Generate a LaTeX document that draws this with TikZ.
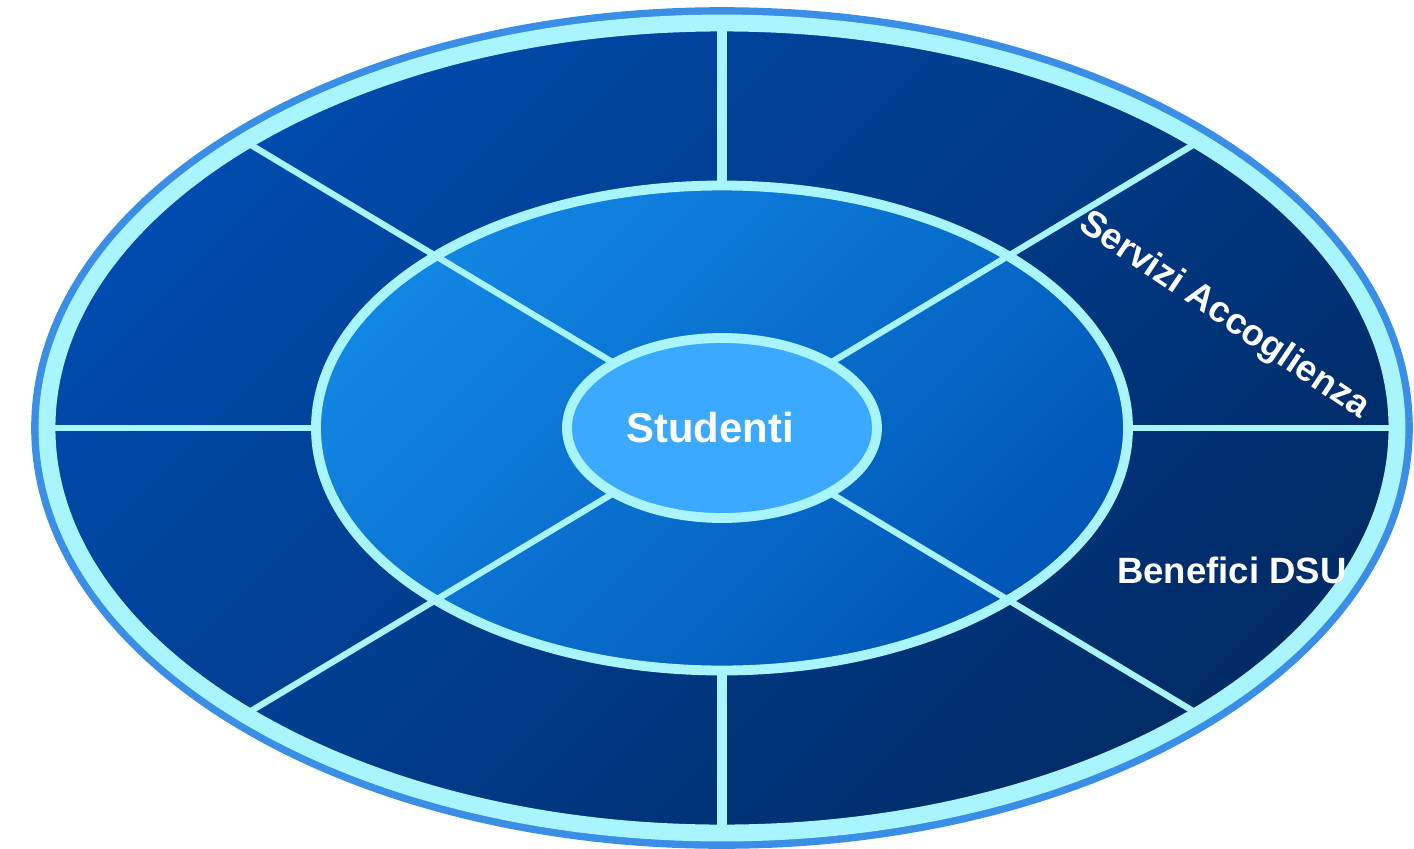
\documentclass[tikz,border=0pt]{standalone}
\usepackage{fontspec}
\setmainfont{Liberation Sans}
\usepackage{tikz}
\usetikzlibrary{shapes.geometric}
\usetikzlibrary{positioning}
\definecolor{rimcyan}{HTML}{A8F4FF}
\definecolor{halo}{HTML}{3A8EE6}
\definecolor{ringtop}{HTML}{004BAD}
\definecolor{ringbot}{HTML}{002B66}
\definecolor{midtop}{HTML}{1286E4}
\definecolor{midbot}{HTML}{0056B6}
\definecolor{core}{HTML}{3AA9FF}
\tikzstyle{ring} = [draw=rimcyan, ellipse, inner sep=0pt, outer sep=0pt]
\tikzstyle{spoke} = [draw=rimcyan, line width=1.8pt]
\begin{document}
\begin{tikzpicture}[
lab/.style={text=white, font=\bfseries\fontsize{10.4}{12}\selectfont}]
\useasboundingbox (-7.22,-4.20) rectangle (6.92,4.28);
\node [ring, line width=4.8pt, minimum width=13.5cm, minimum height=8.1cm,
preaction={draw=halo, line width=9pt},
top color=ringtop, bottom color=ringbot, shading angle=45] (outer) at (0,0) {};
\node [ring, line width=2.8pt, minimum width=8.12cm, minimum height=4.85cm,
top color=midtop, bottom color=midbot, shading angle=45] (middle) at (0,0) {};
\node [ring, line width=2.8pt, minimum width=3.10cm, minimum height=1.80cm,
fill=core, text=white, font=\bfseries\fontsize{11.9}{14}\selectfont] (students) at (0,0) {Studenti\kern0.24cm};
%% Spokes
\path [spoke, line width=3pt] (middle.90) to (outer.90);
\path [spoke, line width=3pt] (middle.270) to (outer.270);
\path [spoke, line width=1.5pt] (middle.0) to (outer.0);
\path [spoke, line width=1.5pt] (middle.180) to (outer.180);
\path [spoke] (students.149) to (outer.149);
\path [spoke] (students.31) to (outer.31);
\path [spoke] (students.211) to (outer.211);
\path [spoke] (students.329) to (outer.329);
%% Labels
\node [lab, rotate=-34] (services) at (5.02,1.12) {Servizi Accoglienza};
\node [lab] (benefits) at (5.10,-1.42) {Benefici DSU};
\end{tikzpicture}
\end{document}
